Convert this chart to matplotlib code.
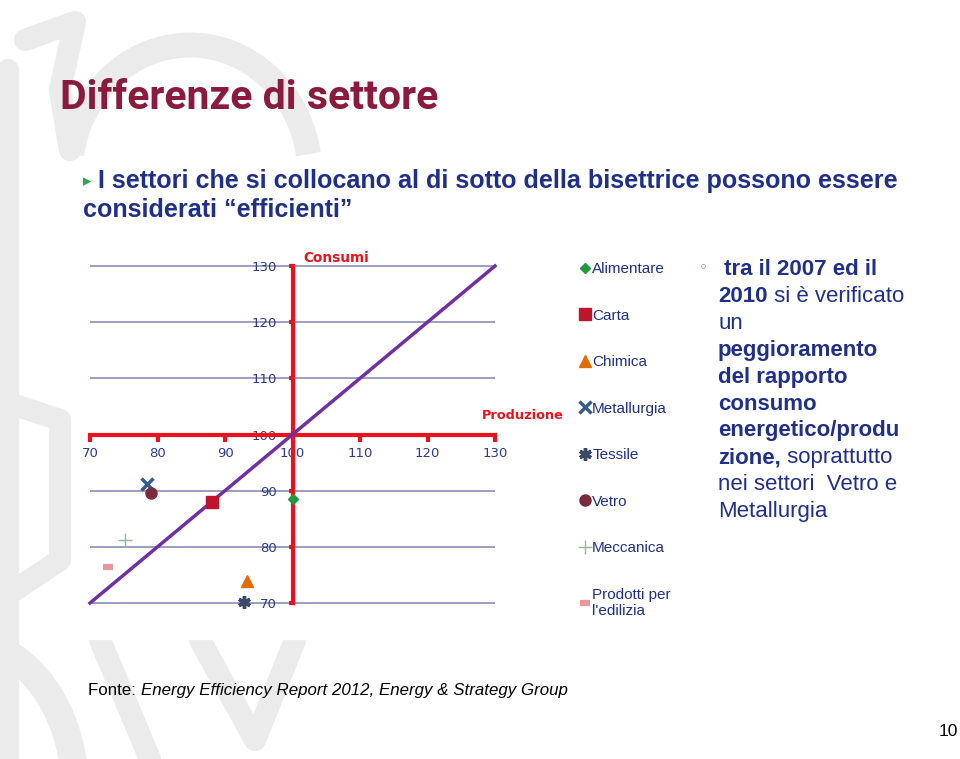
import matplotlib
matplotlib.use("Agg")
import matplotlib.pyplot as plt
from matplotlib.patches import Rectangle, Arc

# ── Dati ──────────────────────────────────────────────────────────────────
settori = ["Alimentare", "Carta", "Chimica", "Metallurgia", "Tessile",
           "Vetro", "Meccanica", "Prodotti per\nl'edilizia"]
produzione = [100.0, 88.1, 93.3, 78.4, 92.8, 79.0, 75.2, 72.7]
consumi    = [88.6, 88.0, 73.9, 91.1, 70.2, 89.6, 81.3, 76.4]

x_ticks = [70, 80, 90, 100, 110, 120, 130]
y_ticks = [70, 80, 90, 100, 110, 120, 130]
grid_y  = [70, 80, 90, 110, 120, 130]
bisettrice = [70, 130]

# stile marker per settore
markers = ["D", "s", "^", "x", (6, 2, 0), "o", "+", "_"]
m_cols  = ["#1e9a3c", "#c0142c", "#e36c0a", "#355c8c", "#3b4a6b",
           "#7b2c3c", "#8fbf8f", "#e8989c"]
m_size  = [5.5, 8, 8, 8, 9, 8, 10, 7]
m_edge  = [1, 1, 1, 2.5, 2.5, 1, 1, 4.5]

RED   = "#e8141c"
BLUE  = "#2b3990"
DBLUE = "#1f2f8a"
GRAY  = "#ebebeb"

fig = plt.figure(figsize=(9.6, 7.59), dpi=100)

# ── Sfondo con filigrana ─────────────────────────────────────────────────
bg = fig.add_axes([0, 0, 1, 1], zorder=-5)
bg.set_xlim(0, 960)
bg.set_ylim(759, 0)
bg.axis("off")
wm = dict(color=GRAY, lw=16, solid_capstyle="round", solid_joinstyle="round")
bg.plot([8, 8], [70, 759], **wm)
bg.plot([25, 75, 60, 70], [40, 22, 90, 150], **wm)
bg.add_patch(Arc((190, 175), 240, 260, theta1=190, theta2=350,
                 color=GRAY, lw=18))
bg.plot([0, 60, 60, 0], [400, 420, 560, 600], **wm)
bg.add_patch(Arc((-40, 790), 230, 300, theta1=280, theta2=360,
                 color=GRAY, lw=20))
bg.plot([100, 150], [640, 759], **wm)
bg.plot([200, 255, 295], [640, 740, 640], **wm)
bg.add_patch(Rectangle((80, 157), 832, 482, color="white", zorder=2))


def riga(x, y, parti, size, color, family="Liberation Sans"):
    """Scrive una riga con pezzi di stile diverso, uno dopo l'altro."""
    txt, kw = parti[0]
    t = fig.text(x, y, txt, fontsize=size, color=color, family=family,
                 va="baseline", ha="left", **kw)
    for txt, kw in parti[1:]:
        t = fig.add_artist(plt.Annotation(
            txt, xy=(1, 0), xycoords=t, fontsize=size, color=color,
            family=family, va="bottom", ha="left", annotation_clip=False,
            **kw))
    return t


# ── Testi della slide ────────────────────────────────────────────────────
fig.text(60 / 960, 1 - 98 / 759, "Differenze di settore", fontsize=29.5,
         fontweight="bold", color="#8b1a3f", family="Roboto",
         va="center", ha="left")
fig.text(83 / 960, 1 - 181 / 759, "\u25B8", fontsize=12, color="#2aa84a",
         va="center", ha="left", family="DejaVu Sans")
fig.text(98 / 960, 1 - 181 / 759,
         "I settori che si collocano al di sotto della bisettrice possono essere",
         fontsize=18.05, fontweight="bold", color=DBLUE,
         family="Liberation Sans", va="center", ha="left")
fig.text(83 / 960, 1 - 210 / 759, "considerati \u201cefficienti\u201d",
         fontsize=18.05, fontweight="bold", color=DBLUE,
         family="Liberation Sans", va="center", ha="left")

riga(88 / 960, 1 - 695 / 759,
     [("Fonte: ", {}),
      ("Energy Efficiency Report 2012, Energy & Strategy Group",
       {"style": "italic"})], 12.15, "black")
fig.text(958 / 960, 1 - 736 / 759, "10", fontsize=12.5, color="black",
         family="Liberation Sans", va="baseline", ha="right")

# ── Grafico ──────────────────────────────────────────────────────────────
ax = fig.add_axes([76.5 / 960, 1 - 625.5 / 759, 432 / 960, 382 / 759])
ax.set_xlim(68, 132)
ax.set_ylim(66, 134)
ax.patch.set_alpha(0)

ax.hlines(grid_y, 70, 130, color="#8a8fb0", lw=1.2, zorder=1)
ax.plot(bisettrice, bisettrice, color="#7030a0", lw=2.5, zorder=3)

for sp in ["top", "right"]:
    ax.spines[sp].set_visible(False)
for sp in ["left", "bottom"]:
    ax.spines[sp].set_position(("data", 100))
    ax.spines[sp].set_bounds(70, 130)
    ax.spines[sp].set_color(RED)
    ax.spines[sp].set_linewidth(3)
    ax.spines[sp].set_zorder(2)

ax.set_xticks(x_ticks)
ax.set_yticks(y_ticks)
ax.tick_params(axis="x", direction="out", length=5, width=3, color=RED,
               labelcolor=BLUE, labelsize=9.5, pad=4)
ax.tick_params(axis="y", direction="out", length=3, width=3, color=RED,
               labelcolor=BLUE, labelsize=9.5, pad=8)

for i, s in enumerate(settori):
    ax.plot(produzione[i], consumi[i], linestyle="none", marker=markers[i],
            color=m_cols[i], markersize=m_size[i], markeredgewidth=m_edge[i],
            label=s, zorder=4, clip_on=False)

ax.text(101.6, 131.4, "Consumi", color=RED, fontweight="bold", fontsize=9.8,
        ha="left", va="center")
ax.text(128, 103.4, "Produzione", color=RED, fontweight="bold", fontsize=9.3,
        ha="left", va="center")

ax.legend(loc="upper left", bbox_to_anchor=(580 / 960, 1 - 262 / 759),
          bbox_transform=fig.transFigure, frameon=False,
          prop={"family": "Liberation Sans", "size": 11},
          labelspacing=2.13, handlelength=0.6, handletextpad=0.2,
          borderpad=0, borderaxespad=0, labelcolor=DBLUE, numpoints=1)

# ── Nota a destra ────────────────────────────────────────────────────────
fig.text(703 / 960, 1 - 268 / 759, "\u25e6", fontsize=11, color="#2aa84a",
         va="center", ha="center")
B = {"fontweight": "bold"}
N = {}
righe = [
    [(" tra il 2007 ed il", B)],
    [("2010", B), (" si è verificato", N)],
    [("un", N)],
    [("peggioramento", B)],
    [("del rapporto", B)],
    [("consumo", B)],
    [("energetico/produ", B)],
    [("zione,", B), (" soprattutto", N)],
    [("nei settori  Vetro e", N)],
    [("Metallurgia", N)],
]
for i, parti in enumerate(righe):
    riga(718 / 960, 1 - (275 + i * 26.9) / 759, parti, 16, DBLUE)

fig.savefig("out.png", dpi=100)
